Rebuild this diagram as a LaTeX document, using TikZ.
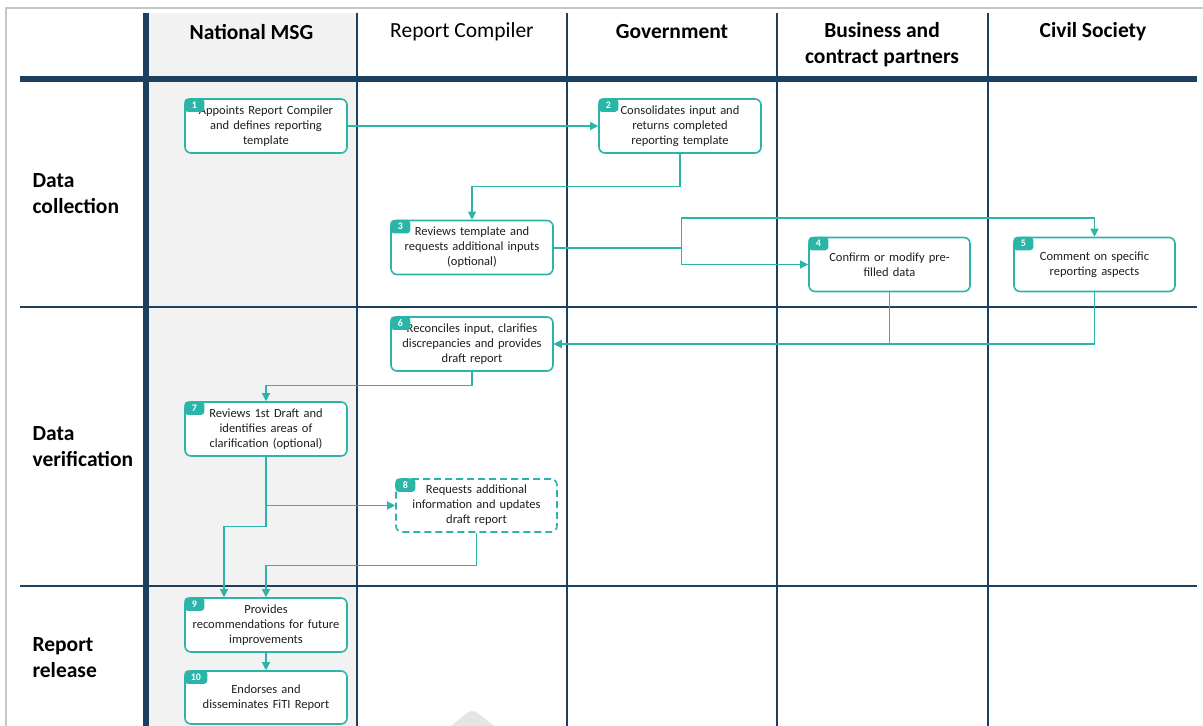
\documentclass[tikz,border=0pt]{standalone}
\usepackage{fontspec}
\setmainfont{Carlito}
\usetikzlibrary{arrows.meta,calc}
\definecolor{navy}{HTML}{1D4060}
\definecolor{tealc}{HTML}{2BB5A8}
\definecolor{lanegrey}{HTML}{F2F2F2}
\definecolor{txt}{HTML}{1F1F1F}
\begin{document}
\begin{tikzpicture}[x=1pt,y=-1pt,
  box/.style={draw=tealc, line width=1.6pt, rounded corners=6pt, fill=white,
    minimum width=162pt, minimum height=54pt, text width=152pt, align=center,
    inner sep=0pt, text=txt, font=\fontsize{12.5}{15}\selectfont},
  dbox/.style={box, dash pattern=on 7pt off 4pt},
  badge/.style={fill=tealc, rounded corners=3.5pt, text=white,
    font=\fontsize{10}{10}\selectfont\bfseries, minimum width=20pt,
    minimum height=13.5pt, inner sep=1.5pt, anchor=north west},
  conn/.style={draw=tealc, line width=1.2pt, -{Triangle[length=8pt,width=8pt]}},
  link/.style={draw=tealc, line width=1.2pt},
  head/.style={font=\fontsize{21.5}{26}\selectfont, align=center, text=black},
  rowlab/.style={font=\fontsize{21.5}{26}\selectfont\bfseries, align=left, anchor=west, text=black},
  grid/.style={draw=navy, line width=2pt}
]
\useasboundingbox (0,0) rectangle (1203,726);
% frame
\draw[gray!45, line width=1.5pt] (6,726) -- (6,8) -- (1203,8);
% lane background
\fill[lanegrey] (149,13) rectangle (356,726);
% watermark fragment
\fill[gray!20, rounded corners=5pt] (446,730) -- (472,709) -- (500,730) -- cycle;
% grid
\draw[navy, line width=6pt] (146,13) -- (146,726);
\foreach \xx in {357,567,777,988} \draw[grid] (\xx,13) -- (\xx,726);
\draw[navy, line width=6pt] (20,78.5) -- (1197,78.5);
\draw[grid, line width=2.2pt] (20,307) -- (1197,307);
\draw[grid, line width=2.2pt] (20,586) -- (1197,586);
% headers
\node[head, font=\fontsize{21.5}{26}\selectfont\bfseries] (hmsg) at (251.5,32) {National MSG};
\node[head] (hrc) at (462,32) {Report Compiler};
\node[head, font=\fontsize{21.5}{26}\selectfont\bfseries] (hgov) at (672,32) {Government};
\node[head, font=\fontsize{21.5}{26}\selectfont\bfseries] (hbus) at (882,45) {Business and\\contract partners};
\node[head, font=\fontsize{21.5}{26}\selectfont\bfseries] (hcs) at (1093,32) {Civil Society};
% row labels
\node[rowlab] (rdc) at (29,194) {Data\\collection};
\node[rowlab] (rdv) at (29,447) {Data\\verification};
\node[rowlab] (rrr) at (29,658) {Report\\release};
% boxes
\node[box] (b1) at (266,126) {Appoints Report Compiler\\and defines reporting\\template};
\node[box] (b2) at (680,126) {Consolidates input and\\returns completed\\reporting template};
\node[box] (b3) at (472,247.5) {Reviews template and\\requests additional inputs\\(optional)};
\node[box, minimum width=161pt] (b4) at (889.5,264.5) {Confirm or modify pre-\\filled data};
\node[box, minimum width=161pt] (b5) at (1094.5,264.5) {Comment on specific\\reporting aspects};
\node[box] (b6) at (472,344) {Reconciles input, clarifies\\discrepancies and provides\\draft report};
\node[box] (b7) at (266,429) {Reviews 1st Draft and\\identifies areas of\\clarification (optional)};
\node[dbox, minimum width=161pt, minimum height=53pt] (b8) at (476.5,505.5) {Requests additional\\information and updates\\draft report};
\node[box] (b9) at (266,625) {Provides\\recommendations for future\\improvements};
\node[box, minimum height=53pt] (b10) at (266,697.5) {Endorses and\\disseminates FiTI Report};
% badges
\node[badge] (n1) at (b1.north west) {1};
\node[badge] (n2) at (b2.north west) {2};
\node[badge] (n3) at (b3.north west) {3};
\node[badge] (n4) at (b4.north west) {4};
\node[badge] (n5) at (b5.north west) {5};
\node[badge] (n6) at (b6.north west) {6};
\node[badge] (n7) at (b7.north west) {7};
\node[badge] (n8) at (b8.north west) {8};
\node[badge] (n9) at (b9.north west) {9};
\node[badge, minimum width=23pt] (n10) at (b10.north west) {10};
% connectors
\draw[conn] (b1.east) -- (b2.west);
\draw[conn] (b2.south) -- ++(0,33) -| (b3.north);
\draw[link, line width=2pt] (b3.east) -- ++(128,0) coordinate (j3);
\draw[conn] (j3) |- (b4.west);
\draw[conn] (j3) -- ++(0,-29.5) -| (b5.north);
\draw[conn] (b4.south) |- (b6.east);
\draw[conn] (b5.south) |- (b6.east);
\draw[conn] (b6.south) -- ++(0,14) -| (b7.north);
\draw[conn] (b7.south) |- (b8.west);
\draw[conn] (b7.south) -- ++(0,70) -| ([xshift=-42pt]b9.north);
\draw[conn] (b8.south) -- ++(0,33) -| (b9.north);
\draw[conn] (b9.south) -- (b10.north);
\end{tikzpicture}
\end{document}
